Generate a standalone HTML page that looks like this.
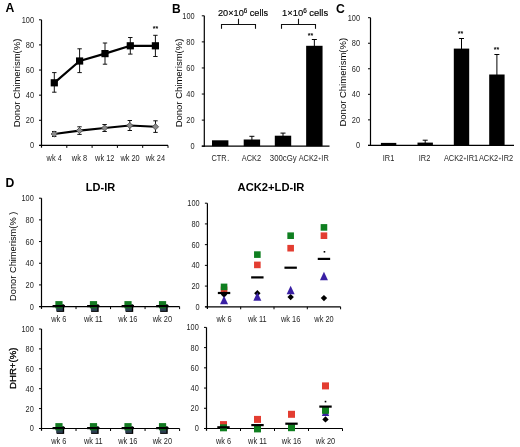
<!DOCTYPE html>
<html><head><meta charset="utf-8"><style>
html,body{margin:0;padding:0;background:#fff;}
svg{display:block;font-family:"Liberation Sans", sans-serif;will-change:transform;filter:blur(0.3px);}
</style></head><body>
<svg width="520" height="447" viewBox="0 0 520 447">
<rect width="520" height="447" fill="#fff"/>
<text x="5.40" y="11.60" font-size="12.2" text-anchor="start" font-weight="bold" fill="#000" >A</text>
<text x="172.00" y="12.70" font-size="12.0" text-anchor="start" font-weight="bold" fill="#000" >B</text>
<text x="336.00" y="13.20" font-size="12.2" text-anchor="start" font-weight="bold" fill="#000" >C</text>
<text x="5.40" y="186.60" font-size="12.2" text-anchor="start" font-weight="bold" fill="#000" >D</text>
<line x1="41.50" y1="19.80" x2="41.50" y2="147.70" stroke="#000" stroke-width="1.2"/>
<line x1="39.00" y1="145.40" x2="41.50" y2="145.40" stroke="#000" stroke-width="1"/>
<text x="0" y="0" transform="translate(34.00,148.35) scale(0.86,1)" font-size="8.6" text-anchor="end" font-weight="normal" fill="#262626" >0</text>
<line x1="39.00" y1="120.28" x2="41.50" y2="120.28" stroke="#000" stroke-width="1"/>
<text x="0" y="0" transform="translate(34.00,123.23) scale(0.86,1)" font-size="8.6" text-anchor="end" font-weight="normal" fill="#262626" >20</text>
<line x1="39.00" y1="95.16" x2="41.50" y2="95.16" stroke="#000" stroke-width="1"/>
<text x="0" y="0" transform="translate(34.00,98.11) scale(0.86,1)" font-size="8.6" text-anchor="end" font-weight="normal" fill="#262626" >40</text>
<line x1="39.00" y1="70.04" x2="41.50" y2="70.04" stroke="#000" stroke-width="1"/>
<text x="0" y="0" transform="translate(34.00,72.99) scale(0.86,1)" font-size="8.6" text-anchor="end" font-weight="normal" fill="#262626" >60</text>
<line x1="39.00" y1="44.92" x2="41.50" y2="44.92" stroke="#000" stroke-width="1"/>
<text x="0" y="0" transform="translate(34.00,47.87) scale(0.86,1)" font-size="8.6" text-anchor="end" font-weight="normal" fill="#262626" >80</text>
<line x1="39.00" y1="19.80" x2="41.50" y2="19.80" stroke="#000" stroke-width="1"/>
<text x="0" y="0" transform="translate(34.00,22.75) scale(0.86,1)" font-size="8.6" text-anchor="end" font-weight="normal" fill="#262626" >100</text>
<line x1="39.30" y1="145.40" x2="168.00" y2="145.40" stroke="#000" stroke-width="1.2"/>
<line x1="66.80" y1="145.40" x2="66.80" y2="147.90" stroke="#000" stroke-width="1"/>
<line x1="92.10" y1="145.40" x2="92.10" y2="147.90" stroke="#000" stroke-width="1"/>
<line x1="117.40" y1="145.40" x2="117.40" y2="147.90" stroke="#000" stroke-width="1"/>
<line x1="142.70" y1="145.40" x2="142.70" y2="147.90" stroke="#000" stroke-width="1"/>
<line x1="168.00" y1="145.40" x2="168.00" y2="147.90" stroke="#000" stroke-width="1"/>
<text x="0" y="0" font-size="9.5" text-anchor="middle" font-weight="normal" fill="#000" transform="translate(19.50,83.00) rotate(-90)" >Donor Chimerism(%)</text>
<text x="0" y="0" transform="translate(54.15,161.10) scale(0.86,1)" font-size="8.6" text-anchor="middle" font-weight="normal" fill="#262626" >wk 4</text>
<text x="0" y="0" transform="translate(79.45,161.10) scale(0.86,1)" font-size="8.6" text-anchor="middle" font-weight="normal" fill="#262626" >wk 8</text>
<text x="0" y="0" transform="translate(104.75,161.10) scale(0.86,1)" font-size="8.6" text-anchor="middle" font-weight="normal" fill="#262626" >wk 12</text>
<text x="0" y="0" transform="translate(130.05,161.10) scale(0.86,1)" font-size="8.6" text-anchor="middle" font-weight="normal" fill="#262626" >wk 20</text>
<text x="0" y="0" transform="translate(155.35,161.10) scale(0.86,1)" font-size="8.6" text-anchor="middle" font-weight="normal" fill="#262626" >wk 24</text>
<line x1="54.30" y1="72.60" x2="54.30" y2="92.20" stroke="#111" stroke-width="1"/>
<line x1="52.10" y1="72.60" x2="56.50" y2="72.60" stroke="#111" stroke-width="1"/>
<line x1="52.10" y1="92.20" x2="56.50" y2="92.20" stroke="#111" stroke-width="1"/>
<line x1="79.60" y1="48.80" x2="79.60" y2="72.60" stroke="#111" stroke-width="1"/>
<line x1="77.40" y1="48.80" x2="81.80" y2="48.80" stroke="#111" stroke-width="1"/>
<line x1="77.40" y1="72.60" x2="81.80" y2="72.60" stroke="#111" stroke-width="1"/>
<line x1="105.00" y1="43.00" x2="105.00" y2="64.20" stroke="#111" stroke-width="1"/>
<line x1="102.80" y1="43.00" x2="107.20" y2="43.00" stroke="#111" stroke-width="1"/>
<line x1="102.80" y1="64.20" x2="107.20" y2="64.20" stroke="#111" stroke-width="1"/>
<line x1="130.30" y1="37.50" x2="130.30" y2="54.10" stroke="#111" stroke-width="1"/>
<line x1="128.10" y1="37.50" x2="132.50" y2="37.50" stroke="#111" stroke-width="1"/>
<line x1="128.10" y1="54.10" x2="132.50" y2="54.10" stroke="#111" stroke-width="1"/>
<line x1="155.40" y1="35.30" x2="155.40" y2="56.50" stroke="#111" stroke-width="1"/>
<line x1="153.20" y1="35.30" x2="157.60" y2="35.30" stroke="#111" stroke-width="1"/>
<line x1="153.20" y1="56.50" x2="157.60" y2="56.50" stroke="#111" stroke-width="1"/>
<line x1="54.20" y1="131.50" x2="54.20" y2="136.50" stroke="#111" stroke-width="1"/>
<line x1="52.00" y1="131.50" x2="56.40" y2="131.50" stroke="#111" stroke-width="1"/>
<line x1="52.00" y1="136.50" x2="56.40" y2="136.50" stroke="#111" stroke-width="1"/>
<line x1="79.50" y1="126.80" x2="79.50" y2="134.40" stroke="#111" stroke-width="1"/>
<line x1="77.30" y1="126.80" x2="81.70" y2="126.80" stroke="#111" stroke-width="1"/>
<line x1="77.30" y1="134.40" x2="81.70" y2="134.40" stroke="#111" stroke-width="1"/>
<line x1="104.60" y1="124.50" x2="104.60" y2="131.50" stroke="#111" stroke-width="1"/>
<line x1="102.40" y1="124.50" x2="106.80" y2="124.50" stroke="#111" stroke-width="1"/>
<line x1="102.40" y1="131.50" x2="106.80" y2="131.50" stroke="#111" stroke-width="1"/>
<line x1="129.80" y1="120.50" x2="129.80" y2="130.50" stroke="#111" stroke-width="1"/>
<line x1="127.60" y1="120.50" x2="132.00" y2="120.50" stroke="#111" stroke-width="1"/>
<line x1="127.60" y1="130.50" x2="132.00" y2="130.50" stroke="#111" stroke-width="1"/>
<line x1="155.50" y1="120.80" x2="155.50" y2="132.40" stroke="#111" stroke-width="1"/>
<line x1="153.30" y1="120.80" x2="157.70" y2="120.80" stroke="#111" stroke-width="1"/>
<line x1="153.30" y1="132.40" x2="157.70" y2="132.40" stroke="#111" stroke-width="1"/>
<polyline points="54.30,82.80 79.60,61.00 105.00,53.60 130.30,45.80 155.40,45.80" fill="none" stroke="#000" stroke-width="2.2" stroke-linejoin="round"/>
<polyline points="54.20,134.00 79.50,130.60 104.60,128.00 129.80,125.50 155.50,126.80" fill="none" stroke="#000" stroke-width="2.1" stroke-linejoin="round"/>
<rect x="50.70" y="79.20" width="7.20" height="7.20" fill="#000"/>
<rect x="76.00" y="57.40" width="7.20" height="7.20" fill="#000"/>
<rect x="101.40" y="50.00" width="7.20" height="7.20" fill="#000"/>
<rect x="126.70" y="42.20" width="7.20" height="7.20" fill="#000"/>
<rect x="151.80" y="42.20" width="7.20" height="7.20" fill="#000"/>
<polygon points="54.20,130.90 57.30,134.00 54.20,137.10 51.10,134.00" fill="#8c8c8c" stroke="#444" stroke-width="0.8"/>
<polygon points="79.50,127.50 82.60,130.60 79.50,133.70 76.40,130.60" fill="#8c8c8c" stroke="#444" stroke-width="0.8"/>
<polygon points="104.60,124.90 107.70,128.00 104.60,131.10 101.50,128.00" fill="#8c8c8c" stroke="#444" stroke-width="0.8"/>
<polygon points="129.80,122.40 132.90,125.50 129.80,128.60 126.70,125.50" fill="#8c8c8c" stroke="#444" stroke-width="0.8"/>
<polygon points="155.50,123.70 158.60,126.80 155.50,129.90 152.40,126.80" fill="#8c8c8c" stroke="#444" stroke-width="0.8"/>
<text x="155.40" y="31.00" font-size="7" text-anchor="middle" font-weight="bold" fill="#000" >**</text>
<line x1="204.30" y1="15.80" x2="204.30" y2="146.70" stroke="#000" stroke-width="1.2"/>
<line x1="201.80" y1="146.20" x2="204.30" y2="146.20" stroke="#000" stroke-width="1"/>
<text x="0" y="0" transform="translate(194.60,149.15) scale(0.86,1)" font-size="8.6" text-anchor="end" font-weight="normal" fill="#262626" >0</text>
<line x1="201.80" y1="120.12" x2="204.30" y2="120.12" stroke="#000" stroke-width="1"/>
<text x="0" y="0" transform="translate(194.60,123.07) scale(0.86,1)" font-size="8.6" text-anchor="end" font-weight="normal" fill="#262626" >20</text>
<line x1="201.80" y1="94.04" x2="204.30" y2="94.04" stroke="#000" stroke-width="1"/>
<text x="0" y="0" transform="translate(194.60,96.99) scale(0.86,1)" font-size="8.6" text-anchor="end" font-weight="normal" fill="#262626" >40</text>
<line x1="201.80" y1="67.96" x2="204.30" y2="67.96" stroke="#000" stroke-width="1"/>
<text x="0" y="0" transform="translate(194.60,70.91) scale(0.86,1)" font-size="8.6" text-anchor="end" font-weight="normal" fill="#262626" >60</text>
<line x1="201.80" y1="41.88" x2="204.30" y2="41.88" stroke="#000" stroke-width="1"/>
<text x="0" y="0" transform="translate(194.60,44.83) scale(0.86,1)" font-size="8.6" text-anchor="end" font-weight="normal" fill="#262626" >80</text>
<line x1="201.80" y1="15.80" x2="204.30" y2="15.80" stroke="#000" stroke-width="1"/>
<text x="0" y="0" transform="translate(194.60,18.75) scale(0.86,1)" font-size="8.6" text-anchor="end" font-weight="normal" fill="#262626" >100</text>
<line x1="201.80" y1="146.20" x2="329.50" y2="146.20" stroke="#000" stroke-width="1.2"/>
<text x="0" y="0" font-size="9.5" text-anchor="middle" font-weight="normal" fill="#000" transform="translate(182.40,83.00) rotate(-90)" >Donor Chimerism(%)</text>
<rect x="212.00" y="140.30" width="16.40" height="5.90" fill="#000"/>
<line x1="251.90" y1="136.30" x2="251.90" y2="140.50" stroke="#000" stroke-width="1"/>
<line x1="249.40" y1="136.30" x2="254.40" y2="136.30" stroke="#000" stroke-width="1"/>
<line x1="249.40" y1="140.50" x2="254.40" y2="140.50" stroke="#000" stroke-width="1"/>
<rect x="243.70" y="139.50" width="16.40" height="6.70" fill="#000"/>
<line x1="283.00" y1="133.10" x2="283.00" y2="136.70" stroke="#000" stroke-width="1"/>
<line x1="280.50" y1="133.10" x2="285.50" y2="133.10" stroke="#000" stroke-width="1"/>
<line x1="280.50" y1="136.70" x2="285.50" y2="136.70" stroke="#000" stroke-width="1"/>
<rect x="274.80" y="135.70" width="16.40" height="10.50" fill="#000"/>
<line x1="314.35" y1="39.50" x2="314.35" y2="46.80" stroke="#000" stroke-width="1"/>
<line x1="311.85" y1="39.50" x2="316.85" y2="39.50" stroke="#000" stroke-width="1"/>
<line x1="311.85" y1="46.80" x2="316.85" y2="46.80" stroke="#000" stroke-width="1"/>
<rect x="306.15" y="45.80" width="16.40" height="100.40" fill="#000"/>
<text x="0" y="0" transform="translate(219.00,161.10) scale(0.86,1)" font-size="8.6" text-anchor="middle" font-weight="normal" fill="#262626" >CTR</text>
<text x="0" y="0" transform="translate(251.50,161.10) scale(0.86,1)" font-size="8.6" text-anchor="middle" font-weight="normal" fill="#262626" >ACK2</text>
<text x="0" y="0" transform="translate(283.20,161.10) scale(0.905,1)" font-size="8.6" text-anchor="middle" font-weight="normal" fill="#262626" >300cGy</text>
<text x="0" y="0" transform="translate(313.70,161.10) scale(0.86,1)" font-size="8.6" text-anchor="middle" font-weight="normal" fill="#262626" >ACK2<tspan font-size="5.8" dx="0.3" dy="-1.1">+</tspan><tspan dx="0.3" dy="1.1">IR</tspan></text>
<text x="310.50" y="37.50" font-size="7" text-anchor="middle" font-weight="bold" fill="#000" >**</text>
<circle cx="228.3" cy="160.4" r="0.55" fill="#666"/>
<line x1="221.00" y1="24.50" x2="256.00" y2="24.50" stroke="#111" stroke-width="1.1"/>
<line x1="221.50" y1="24.00" x2="221.50" y2="28.80" stroke="#111" stroke-width="1.1"/>
<line x1="255.50" y1="24.00" x2="255.50" y2="28.80" stroke="#111" stroke-width="1.1"/>
<line x1="238.50" y1="18.80" x2="238.50" y2="24.50" stroke="#111" stroke-width="1.1"/>
<line x1="281.00" y1="24.50" x2="316.00" y2="24.50" stroke="#111" stroke-width="1.1"/>
<line x1="281.50" y1="24.00" x2="281.50" y2="28.80" stroke="#111" stroke-width="1.1"/>
<line x1="315.50" y1="24.00" x2="315.50" y2="28.80" stroke="#111" stroke-width="1.1"/>
<line x1="298.50" y1="18.80" x2="298.50" y2="24.50" stroke="#111" stroke-width="1.1"/>
<text x="0" y="0" transform="translate(218,16.2) scale(0.965,1)" font-size="9.5" fill="#000" stroke="#000" stroke-width="0.15">20×10<tspan font-size="6.5" dy="-3.6">6</tspan><tspan dy="3.6"> cells</tspan></text>
<text x="0" y="0" transform="translate(282,16.2) scale(0.99,1)" font-size="9.5" fill="#000" stroke="#000" stroke-width="0.15">1×10<tspan font-size="6.5" dy="-3.6">6</tspan><tspan dy="3.6"> cells</tspan></text>
<line x1="370.50" y1="17.70" x2="370.50" y2="145.90" stroke="#000" stroke-width="1.2"/>
<line x1="368.00" y1="145.40" x2="370.50" y2="145.40" stroke="#000" stroke-width="1"/>
<text x="0" y="0" transform="translate(360.00,148.35) scale(0.86,1)" font-size="8.6" text-anchor="end" font-weight="normal" fill="#262626" >0</text>
<line x1="368.00" y1="119.86" x2="370.50" y2="119.86" stroke="#000" stroke-width="1"/>
<text x="0" y="0" transform="translate(360.00,122.81) scale(0.86,1)" font-size="8.6" text-anchor="end" font-weight="normal" fill="#262626" >20</text>
<line x1="368.00" y1="94.32" x2="370.50" y2="94.32" stroke="#000" stroke-width="1"/>
<text x="0" y="0" transform="translate(360.00,97.27) scale(0.86,1)" font-size="8.6" text-anchor="end" font-weight="normal" fill="#262626" >40</text>
<line x1="368.00" y1="68.78" x2="370.50" y2="68.78" stroke="#000" stroke-width="1"/>
<text x="0" y="0" transform="translate(360.00,71.73) scale(0.86,1)" font-size="8.6" text-anchor="end" font-weight="normal" fill="#262626" >60</text>
<line x1="368.00" y1="43.24" x2="370.50" y2="43.24" stroke="#000" stroke-width="1"/>
<text x="0" y="0" transform="translate(360.00,46.19) scale(0.86,1)" font-size="8.6" text-anchor="end" font-weight="normal" fill="#262626" >80</text>
<line x1="368.00" y1="17.70" x2="370.50" y2="17.70" stroke="#000" stroke-width="1"/>
<text x="0" y="0" transform="translate(360.00,20.65) scale(0.86,1)" font-size="8.6" text-anchor="end" font-weight="normal" fill="#262626" >100</text>
<line x1="368.00" y1="145.40" x2="514.00" y2="145.40" stroke="#000" stroke-width="1.2"/>
<text x="0" y="0" font-size="9.5" text-anchor="middle" font-weight="normal" fill="#000" transform="translate(345.80,82.20) rotate(-90)" >Donor Chimerism(%)</text>
<rect x="380.90" y="142.90" width="15.40" height="2.50" fill="#000"/>
<line x1="425.20" y1="140.20" x2="425.20" y2="143.60" stroke="#000" stroke-width="1"/>
<line x1="422.70" y1="140.20" x2="427.70" y2="140.20" stroke="#000" stroke-width="1"/>
<line x1="422.70" y1="143.60" x2="427.70" y2="143.60" stroke="#000" stroke-width="1"/>
<rect x="417.50" y="142.60" width="15.40" height="2.80" fill="#000"/>
<line x1="461.50" y1="38.50" x2="461.50" y2="49.60" stroke="#000" stroke-width="1"/>
<line x1="459.00" y1="38.50" x2="464.00" y2="38.50" stroke="#000" stroke-width="1"/>
<line x1="459.00" y1="49.60" x2="464.00" y2="49.60" stroke="#000" stroke-width="1"/>
<rect x="453.80" y="48.60" width="15.40" height="96.80" fill="#000"/>
<line x1="496.90" y1="54.50" x2="496.90" y2="75.50" stroke="#000" stroke-width="1"/>
<line x1="494.40" y1="54.50" x2="499.40" y2="54.50" stroke="#000" stroke-width="1"/>
<line x1="494.40" y1="75.50" x2="499.40" y2="75.50" stroke="#000" stroke-width="1"/>
<rect x="489.20" y="74.50" width="15.40" height="70.90" fill="#000"/>
<text x="0" y="0" transform="translate(388.50,161.30) scale(0.86,1)" font-size="8.6" text-anchor="middle" font-weight="normal" fill="#262626" >IR1</text>
<text x="0" y="0" transform="translate(424.50,161.30) scale(0.86,1)" font-size="8.6" text-anchor="middle" font-weight="normal" fill="#262626" >IR2</text>
<text x="0" y="0" transform="translate(461.00,161.30) scale(0.86,1)" font-size="8.6" text-anchor="middle" font-weight="normal" fill="#262626" >ACK2<tspan font-size="5.8" dx="0.3" dy="-1.1">+</tspan><tspan dx="0.3" dy="1.1">IR1</tspan></text>
<text x="0" y="0" transform="translate(496.00,161.30) scale(0.86,1)" font-size="8.6" text-anchor="middle" font-weight="normal" fill="#262626" >ACK2<tspan font-size="5.8" dx="0.3" dy="-1.1">+</tspan><tspan dx="0.3" dy="1.1">IR2</tspan></text>
<text x="460.50" y="35.50" font-size="7" text-anchor="middle" font-weight="bold" fill="#000" >**</text>
<text x="496.50" y="51.50" font-size="7" text-anchor="middle" font-weight="bold" fill="#000" >**</text>
<text x="100.50" y="191.00" font-size="11" text-anchor="middle" font-weight="bold" fill="#000" >LD-IR</text>
<text x="271.00" y="191.20" font-size="11.2" text-anchor="middle" font-weight="bold" fill="#000" >ACK2+LD-IR</text>
<line x1="41.50" y1="198.20" x2="41.50" y2="308.90" stroke="#000" stroke-width="1.2"/>
<line x1="39.00" y1="306.60" x2="41.50" y2="306.60" stroke="#000" stroke-width="1"/>
<text x="0" y="0" transform="translate(33.80,309.55) scale(0.86,1)" font-size="8.6" text-anchor="end" font-weight="normal" fill="#262626" >0</text>
<line x1="39.00" y1="284.92" x2="41.50" y2="284.92" stroke="#000" stroke-width="1"/>
<text x="0" y="0" transform="translate(33.80,287.87) scale(0.86,1)" font-size="8.6" text-anchor="end" font-weight="normal" fill="#262626" >20</text>
<line x1="39.00" y1="263.24" x2="41.50" y2="263.24" stroke="#000" stroke-width="1"/>
<text x="0" y="0" transform="translate(33.80,266.19) scale(0.86,1)" font-size="8.6" text-anchor="end" font-weight="normal" fill="#262626" >40</text>
<line x1="39.00" y1="241.56" x2="41.50" y2="241.56" stroke="#000" stroke-width="1"/>
<text x="0" y="0" transform="translate(33.80,244.51) scale(0.86,1)" font-size="8.6" text-anchor="end" font-weight="normal" fill="#262626" >60</text>
<line x1="39.00" y1="219.88" x2="41.50" y2="219.88" stroke="#000" stroke-width="1"/>
<text x="0" y="0" transform="translate(33.80,222.83) scale(0.86,1)" font-size="8.6" text-anchor="end" font-weight="normal" fill="#262626" >80</text>
<line x1="39.00" y1="198.20" x2="41.50" y2="198.20" stroke="#000" stroke-width="1"/>
<text x="0" y="0" transform="translate(33.80,201.15) scale(0.86,1)" font-size="8.6" text-anchor="end" font-weight="normal" fill="#262626" >100</text>
<line x1="39.30" y1="306.60" x2="179.60" y2="306.60" stroke="#000" stroke-width="1.2"/>
<line x1="76.03" y1="306.60" x2="76.03" y2="309.10" stroke="#000" stroke-width="1"/>
<line x1="110.55" y1="306.60" x2="110.55" y2="309.10" stroke="#000" stroke-width="1"/>
<line x1="145.07" y1="306.60" x2="145.07" y2="309.10" stroke="#000" stroke-width="1"/>
<line x1="179.60" y1="306.60" x2="179.60" y2="309.10" stroke="#000" stroke-width="1"/>
<text x="0" y="0" transform="translate(58.76,322.00) scale(0.86,1)" font-size="8.6" text-anchor="middle" font-weight="normal" fill="#262626" >wk 6</text>
<text x="0" y="0" transform="translate(93.29,322.00) scale(0.86,1)" font-size="8.6" text-anchor="middle" font-weight="normal" fill="#262626" >wk 11</text>
<text x="0" y="0" transform="translate(127.81,322.00) scale(0.86,1)" font-size="8.6" text-anchor="middle" font-weight="normal" fill="#262626" >wk 16</text>
<text x="0" y="0" transform="translate(162.34,322.00) scale(0.86,1)" font-size="8.6" text-anchor="middle" font-weight="normal" fill="#262626" >wk 20</text>
<text x="0" y="0" font-size="9.3" text-anchor="middle" font-weight="normal" fill="#000" transform="translate(15.50,256.30) rotate(-90)" >Donor Chimerism(%&#160;)</text>
<rect x="56.56" y="304.30" width="7.60" height="7.60" fill="#000"/>
<rect x="56.36" y="304.50" width="6.40" height="6.40" fill="#2c3f52"/>
<rect x="55.36" y="301.10" width="7.20" height="7.20" fill="#137a22"/>
<rect x="52.56" y="305.00" width="12.40" height="2.20" fill="#000"/>
<rect x="91.09" y="304.30" width="7.60" height="7.60" fill="#000"/>
<rect x="90.89" y="304.50" width="6.40" height="6.40" fill="#2c3f52"/>
<rect x="89.89" y="301.10" width="7.20" height="7.20" fill="#137a22"/>
<rect x="87.09" y="305.00" width="12.40" height="2.20" fill="#000"/>
<rect x="125.61" y="304.30" width="7.60" height="7.60" fill="#000"/>
<rect x="125.41" y="304.50" width="6.40" height="6.40" fill="#2c3f52"/>
<rect x="124.41" y="301.10" width="7.20" height="7.20" fill="#137a22"/>
<rect x="121.61" y="305.00" width="12.40" height="2.20" fill="#000"/>
<rect x="160.14" y="304.30" width="7.60" height="7.60" fill="#000"/>
<rect x="159.94" y="304.50" width="6.40" height="6.40" fill="#2c3f52"/>
<rect x="158.94" y="301.10" width="7.20" height="7.20" fill="#137a22"/>
<rect x="156.14" y="305.00" width="12.40" height="2.20" fill="#000"/>
<line x1="207.40" y1="203.20" x2="207.40" y2="309.10" stroke="#000" stroke-width="1.2"/>
<line x1="204.90" y1="306.80" x2="207.40" y2="306.80" stroke="#000" stroke-width="1"/>
<text x="0" y="0" transform="translate(199.70,309.75) scale(0.86,1)" font-size="8.6" text-anchor="end" font-weight="normal" fill="#262626" >0</text>
<line x1="204.90" y1="286.08" x2="207.40" y2="286.08" stroke="#000" stroke-width="1"/>
<text x="0" y="0" transform="translate(199.70,289.03) scale(0.86,1)" font-size="8.6" text-anchor="end" font-weight="normal" fill="#262626" >20</text>
<line x1="204.90" y1="265.36" x2="207.40" y2="265.36" stroke="#000" stroke-width="1"/>
<text x="0" y="0" transform="translate(199.70,268.31) scale(0.86,1)" font-size="8.6" text-anchor="end" font-weight="normal" fill="#262626" >40</text>
<line x1="204.90" y1="244.64" x2="207.40" y2="244.64" stroke="#000" stroke-width="1"/>
<text x="0" y="0" transform="translate(199.70,247.59) scale(0.86,1)" font-size="8.6" text-anchor="end" font-weight="normal" fill="#262626" >60</text>
<line x1="204.90" y1="223.92" x2="207.40" y2="223.92" stroke="#000" stroke-width="1"/>
<text x="0" y="0" transform="translate(199.70,226.87) scale(0.86,1)" font-size="8.6" text-anchor="end" font-weight="normal" fill="#262626" >80</text>
<line x1="204.90" y1="203.20" x2="207.40" y2="203.20" stroke="#000" stroke-width="1"/>
<text x="0" y="0" transform="translate(199.70,206.15) scale(0.86,1)" font-size="8.6" text-anchor="end" font-weight="normal" fill="#262626" >100</text>
<line x1="205.20" y1="306.80" x2="340.60" y2="306.80" stroke="#000" stroke-width="1.2"/>
<line x1="240.70" y1="306.80" x2="240.70" y2="309.30" stroke="#000" stroke-width="1"/>
<line x1="274.00" y1="306.80" x2="274.00" y2="309.30" stroke="#000" stroke-width="1"/>
<line x1="307.30" y1="306.80" x2="307.30" y2="309.30" stroke="#000" stroke-width="1"/>
<line x1="340.60" y1="306.80" x2="340.60" y2="309.30" stroke="#000" stroke-width="1"/>
<text x="0" y="0" transform="translate(224.05,322.00) scale(0.86,1)" font-size="8.6" text-anchor="middle" font-weight="normal" fill="#262626" >wk 6</text>
<text x="0" y="0" transform="translate(257.35,322.00) scale(0.86,1)" font-size="8.6" text-anchor="middle" font-weight="normal" fill="#262626" >wk 11</text>
<text x="0" y="0" transform="translate(290.65,322.00) scale(0.86,1)" font-size="8.6" text-anchor="middle" font-weight="normal" fill="#262626" >wk 16</text>
<text x="0" y="0" transform="translate(323.95,322.00) scale(0.86,1)" font-size="8.6" text-anchor="middle" font-weight="normal" fill="#262626" >wk 20</text>
<rect x="220.75" y="286.50" width="6.60" height="6.60" fill="#e33d31"/>
<rect x="220.75" y="283.60" width="6.60" height="6.60" fill="#0f7f20"/>
<polygon points="224.05,291.40 227.25,294.60 224.05,297.80 220.85,294.60" fill="#000"/>
<polygon points="224.05,295.75 228.05,304.25 220.05,304.25" fill="#3a20a4"/>
<rect x="217.85" y="291.90" width="12.40" height="2.20" fill="#000"/>
<rect x="254.05" y="261.60" width="6.60" height="6.60" fill="#e33d31"/>
<rect x="254.05" y="251.30" width="6.60" height="6.60" fill="#0f7f20"/>
<polygon points="257.35,290.00 260.55,293.20 257.35,296.40 254.15,293.20" fill="#000"/>
<polygon points="257.35,292.15 261.35,300.65 253.35,300.65" fill="#3a20a4"/>
<rect x="251.15" y="276.30" width="12.40" height="2.20" fill="#000"/>
<rect x="287.35" y="244.90" width="6.60" height="6.60" fill="#e33d31"/>
<rect x="287.35" y="232.40" width="6.60" height="6.60" fill="#0f7f20"/>
<polygon points="290.65,293.90 293.85,297.10 290.65,300.30 287.45,297.10" fill="#000"/>
<polygon points="290.65,285.75 294.65,294.25 286.65,294.25" fill="#3a20a4"/>
<rect x="284.45" y="266.60" width="12.40" height="2.20" fill="#000"/>
<rect x="320.65" y="232.40" width="6.60" height="6.60" fill="#e33d31"/>
<rect x="320.65" y="224.10" width="6.60" height="6.60" fill="#0f7f20"/>
<polygon points="323.95,294.90 327.15,298.10 323.95,301.30 320.75,298.10" fill="#000"/>
<polygon points="323.95,271.75 327.95,280.25 319.95,280.25" fill="#3a20a4"/>
<rect x="317.75" y="257.80" width="12.40" height="2.20" fill="#000"/>
<rect x="323.65" y="251.00" width="1.60" height="1.60" fill="#000"/>
<line x1="41.50" y1="329.00" x2="41.50" y2="430.80" stroke="#000" stroke-width="1.2"/>
<line x1="39.00" y1="428.50" x2="41.50" y2="428.50" stroke="#000" stroke-width="1"/>
<text x="0" y="0" transform="translate(33.80,431.45) scale(0.86,1)" font-size="8.6" text-anchor="end" font-weight="normal" fill="#262626" >0</text>
<line x1="39.00" y1="408.60" x2="41.50" y2="408.60" stroke="#000" stroke-width="1"/>
<text x="0" y="0" transform="translate(33.80,411.55) scale(0.86,1)" font-size="8.6" text-anchor="end" font-weight="normal" fill="#262626" >20</text>
<line x1="39.00" y1="388.70" x2="41.50" y2="388.70" stroke="#000" stroke-width="1"/>
<text x="0" y="0" transform="translate(33.80,391.65) scale(0.86,1)" font-size="8.6" text-anchor="end" font-weight="normal" fill="#262626" >40</text>
<line x1="39.00" y1="368.80" x2="41.50" y2="368.80" stroke="#000" stroke-width="1"/>
<text x="0" y="0" transform="translate(33.80,371.75) scale(0.86,1)" font-size="8.6" text-anchor="end" font-weight="normal" fill="#262626" >60</text>
<line x1="39.00" y1="348.90" x2="41.50" y2="348.90" stroke="#000" stroke-width="1"/>
<text x="0" y="0" transform="translate(33.80,351.85) scale(0.86,1)" font-size="8.6" text-anchor="end" font-weight="normal" fill="#262626" >80</text>
<line x1="39.00" y1="329.00" x2="41.50" y2="329.00" stroke="#000" stroke-width="1"/>
<text x="0" y="0" transform="translate(33.80,331.95) scale(0.86,1)" font-size="8.6" text-anchor="end" font-weight="normal" fill="#262626" >100</text>
<line x1="39.30" y1="428.50" x2="179.60" y2="428.50" stroke="#000" stroke-width="1.2"/>
<line x1="76.03" y1="428.50" x2="76.03" y2="431.00" stroke="#000" stroke-width="1"/>
<line x1="110.55" y1="428.50" x2="110.55" y2="431.00" stroke="#000" stroke-width="1"/>
<line x1="145.07" y1="428.50" x2="145.07" y2="431.00" stroke="#000" stroke-width="1"/>
<line x1="179.60" y1="428.50" x2="179.60" y2="431.00" stroke="#000" stroke-width="1"/>
<text x="0" y="0" transform="translate(58.76,443.60) scale(0.86,1)" font-size="8.6" text-anchor="middle" font-weight="normal" fill="#262626" >wk 6</text>
<text x="0" y="0" transform="translate(93.29,443.60) scale(0.86,1)" font-size="8.6" text-anchor="middle" font-weight="normal" fill="#262626" >wk 11</text>
<text x="0" y="0" transform="translate(127.81,443.60) scale(0.86,1)" font-size="8.6" text-anchor="middle" font-weight="normal" fill="#262626" >wk 16</text>
<text x="0" y="0" transform="translate(162.34,443.60) scale(0.86,1)" font-size="8.6" text-anchor="middle" font-weight="normal" fill="#262626" >wk 20</text>
<text x="0" y="0" font-size="9.6" text-anchor="middle" font-weight="normal" fill="#000" transform="translate(15.90,368.30) rotate(-90)" stroke="#000" stroke-width="0.3">DHR+(%)</text>
<rect x="56.56" y="426.30" width="7.60" height="7.60" fill="#000"/>
<rect x="56.36" y="426.50" width="6.40" height="6.40" fill="#2c3f52"/>
<rect x="55.36" y="423.10" width="7.20" height="7.20" fill="#137a22"/>
<rect x="52.56" y="427.00" width="12.40" height="2.20" fill="#000"/>
<rect x="91.09" y="426.30" width="7.60" height="7.60" fill="#000"/>
<rect x="90.89" y="426.50" width="6.40" height="6.40" fill="#2c3f52"/>
<rect x="89.89" y="423.10" width="7.20" height="7.20" fill="#137a22"/>
<rect x="87.09" y="427.00" width="12.40" height="2.20" fill="#000"/>
<rect x="125.61" y="426.30" width="7.60" height="7.60" fill="#000"/>
<rect x="125.41" y="426.50" width="6.40" height="6.40" fill="#2c3f52"/>
<rect x="124.41" y="423.10" width="7.20" height="7.20" fill="#137a22"/>
<rect x="121.61" y="427.00" width="12.40" height="2.20" fill="#000"/>
<rect x="160.14" y="426.30" width="7.60" height="7.60" fill="#000"/>
<rect x="159.94" y="426.50" width="6.40" height="6.40" fill="#2c3f52"/>
<rect x="158.94" y="423.10" width="7.20" height="7.20" fill="#137a22"/>
<rect x="156.14" y="427.00" width="12.40" height="2.20" fill="#000"/>
<line x1="206.50" y1="327.40" x2="206.50" y2="430.80" stroke="#000" stroke-width="1.2"/>
<line x1="204.00" y1="428.50" x2="206.50" y2="428.50" stroke="#000" stroke-width="1"/>
<text x="0" y="0" transform="translate(198.80,431.45) scale(0.86,1)" font-size="8.6" text-anchor="end" font-weight="normal" fill="#262626" >0</text>
<line x1="204.00" y1="408.28" x2="206.50" y2="408.28" stroke="#000" stroke-width="1"/>
<text x="0" y="0" transform="translate(198.80,411.23) scale(0.86,1)" font-size="8.6" text-anchor="end" font-weight="normal" fill="#262626" >20</text>
<line x1="204.00" y1="388.06" x2="206.50" y2="388.06" stroke="#000" stroke-width="1"/>
<text x="0" y="0" transform="translate(198.80,391.01) scale(0.86,1)" font-size="8.6" text-anchor="end" font-weight="normal" fill="#262626" >40</text>
<line x1="204.00" y1="367.84" x2="206.50" y2="367.84" stroke="#000" stroke-width="1"/>
<text x="0" y="0" transform="translate(198.80,370.79) scale(0.86,1)" font-size="8.6" text-anchor="end" font-weight="normal" fill="#262626" >60</text>
<line x1="204.00" y1="347.62" x2="206.50" y2="347.62" stroke="#000" stroke-width="1"/>
<text x="0" y="0" transform="translate(198.80,350.57) scale(0.86,1)" font-size="8.6" text-anchor="end" font-weight="normal" fill="#262626" >80</text>
<line x1="204.00" y1="327.40" x2="206.50" y2="327.40" stroke="#000" stroke-width="1"/>
<text x="0" y="0" transform="translate(198.80,330.35) scale(0.86,1)" font-size="8.6" text-anchor="end" font-weight="normal" fill="#262626" >100</text>
<line x1="204.30" y1="428.50" x2="342.50" y2="428.50" stroke="#000" stroke-width="1.2"/>
<line x1="240.50" y1="428.50" x2="240.50" y2="431.00" stroke="#000" stroke-width="1"/>
<line x1="274.50" y1="428.50" x2="274.50" y2="431.00" stroke="#000" stroke-width="1"/>
<line x1="308.50" y1="428.50" x2="308.50" y2="431.00" stroke="#000" stroke-width="1"/>
<line x1="342.50" y1="428.50" x2="342.50" y2="431.00" stroke="#000" stroke-width="1"/>
<text x="0" y="0" transform="translate(223.50,443.60) scale(0.86,1)" font-size="8.6" text-anchor="middle" font-weight="normal" fill="#262626" >wk 6</text>
<text x="0" y="0" transform="translate(257.50,443.60) scale(0.86,1)" font-size="8.6" text-anchor="middle" font-weight="normal" fill="#262626" >wk 11</text>
<text x="0" y="0" transform="translate(291.50,443.60) scale(0.86,1)" font-size="8.6" text-anchor="middle" font-weight="normal" fill="#262626" >wk 16</text>
<text x="0" y="0" transform="translate(325.50,443.60) scale(0.86,1)" font-size="8.6" text-anchor="middle" font-weight="normal" fill="#262626" >wk 20</text>
<rect x="220.00" y="421.10" width="7.00" height="7.00" fill="#e33d31"/>
<rect x="220.00" y="424.30" width="7.00" height="7.00" fill="#0f7f20"/>
<rect x="217.30" y="426.20" width="12.40" height="2.20" fill="#000"/>
<rect x="254.00" y="415.90" width="7.00" height="7.00" fill="#e33d31"/>
<rect x="254.00" y="425.40" width="7.00" height="7.00" fill="#0f7f20"/>
<rect x="251.30" y="424.00" width="12.40" height="2.20" fill="#000"/>
<rect x="288.00" y="410.80" width="7.00" height="7.00" fill="#e33d31"/>
<rect x="288.00" y="424.20" width="7.00" height="7.00" fill="#0f7f20"/>
<rect x="285.30" y="422.60" width="12.40" height="2.20" fill="#000"/>
<rect x="322.00" y="382.40" width="7.00" height="7.00" fill="#e33d31"/>
<polygon points="325.50,416.20 328.70,419.40 325.50,422.60 322.30,419.40" fill="#000"/>
<polygon points="325.50,407.80 329.20,416.00 321.80,416.00" fill="#3a20a4"/>
<rect x="322.00" y="406.80" width="7.00" height="7.00" fill="#0f7f20"/>
<rect x="319.30" y="405.50" width="12.40" height="2.20" fill="#000"/>
<rect x="324.70" y="400.80" width="1.60" height="1.60" fill="#000"/>
</svg>
</body></html>
